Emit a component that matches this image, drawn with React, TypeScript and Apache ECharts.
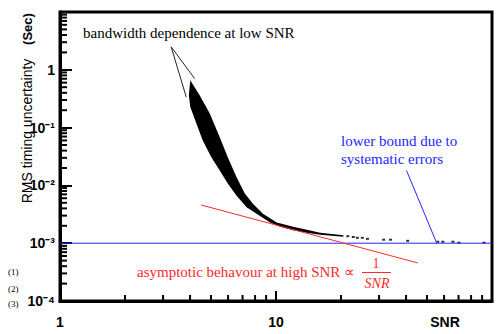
import React, { useEffect, useRef } from "react";
import * as echarts from "echarts";

// Band of simulated results (outline)
const snrUpper = [4.01, 4.43, 4.93, 5.49, 5.98, 6.57, 7.17, 7.82, 8.7, 10.08, 12.0, 13.9, 16.0, 20.5];
const rmsUpper = [0.659, 0.362, 0.177, 0.0684, 0.0308, 0.01384, 0.00722, 0.00483, 0.00324, 0.00229, 0.00193, 0.00171, 0.00152, 0.00137];
const snrLower = [20.5, 16.0, 13.9, 12.0, 10.44, 9.38, 8.13, 7.31, 6.57, 5.98, 5.49, 5.02, 4.58, 4.28, 4.01, 3.95];
const rmsLower = [0.00129, 0.0014, 0.00152, 0.00168, 0.00193, 0.00229, 0.00324, 0.00417, 0.00665, 0.01074, 0.0181, 0.0308, 0.06, 0.118, 0.227, 0.362];

// Isolated points of the high-SNR tail
const tailSnr = [21.5, 22.8, 23.8, 25.1, 26.5, 31.5, 33.9, 40.7, 56.1, 59.2, 65.9, 70.3, 91.8];
const tailRms = [0.00132, 0.00128, 0.00124, 0.00124, 0.00119, 0.00115, 0.00115, 0.0011, 0.00106, 0.00106, 0.00106, 0.00102, 0.00102];

// Asymptote ~ 1/SNR
const asymSnr = [4.5, 45.3];
const asymRms = [0.00458, 0.000456];

// Systematic lower bound
const boundSnr = [1, 100];
const boundRms = [0.001, 0.001];

// Annotation pointers
const ptrBlueSnr = [40.2, 55.5];
const ptrBlueRms = [0.0181, 0.001];
const ptrBlackSnr = [4.2, 3.27, 3.84];
const ptrBlackRms = [0.706, 2.5, 0.339];

// Tick labels
const yTickLabels = ["10\u207B\u2074", "10\u207B\u00B3", "10\u207B\u00B2", "10\u207B\u00B9", "1", ""];
const xTickLabels = ["1", "10", ""];

// Minor tick positions (2..9 in each decade)
const xMinorTicks = [2, 3, 4, 5, 6, 7, 8, 9, 20, 30, 40, 50, 60, 70, 80, 90];
const yMinorTicks = [
  0.0002, 0.0003, 0.0004, 0.0005, 0.0006, 0.0007, 0.0008, 0.0009,
  0.002, 0.003, 0.004, 0.005, 0.006, 0.007, 0.008, 0.009,
  0.02, 0.03, 0.04, 0.05, 0.06, 0.07, 0.08, 0.09,
  0.2, 0.3, 0.4, 0.5, 0.6, 0.7, 0.8, 0.9,
  2, 3, 4, 5, 6, 7, 8, 9,
];
const xMin = 1;
const xMax = 100;
const yMin = 0.0001;
const yMax = 10;

export default function App() {
  const ref = useRef<HTMLDivElement>(null);
  useEffect(() => {
    if (!ref.current) return;
    const chart = echarts.init(ref.current, undefined, { renderer: "svg" });

    const option: any = {
      animation: false,
      grid: { left: 60, right: 10, top: 12, bottom: 33, show: true, borderColor: "#000", borderWidth: 3 },
      xAxis: {
        type: "log",
        min: xMin,
        max: xMax,
        axisLine: { show: true, lineStyle: { color: "#000", width: 3 } },
        axisTick: { show: true, inside: true, length: 10, lineStyle: { color: "#000", width: 2 } },
        splitLine: { show: false },
        axisLabel: {
          margin: 14,
          color: "#000",
          fontWeight: "bold",
          fontSize: 14,
          formatter: (v: number) => xTickLabels[Math.round(Math.log10(v))] ?? "",
        },
      },
      yAxis: {
        type: "log",
        min: yMin,
        max: yMax,
        axisLine: { show: true, lineStyle: { color: "#000", width: 3 } },
        axisTick: { show: true, inside: true, length: 12, lineStyle: { color: "#000", width: 2 } },
        splitLine: { show: false },
        axisLabel: {
          margin: 5,
          color: "#000",
          fontWeight: "bold",
          fontSize: 14,
          formatter: (v: number) => yTickLabels[Math.round(Math.log10(v)) + 4] ?? "",
        },
      },
      series: [
        {
          type: "custom",
          data: [[snrUpper[0], rmsUpper[0]]],
          renderItem: (params: any, api: any) => {
            const pts = [
              ...snrUpper.map((s, i) => api.coord([s, rmsUpper[i]])),
              ...snrLower.map((s, i) => api.coord([s, rmsLower[i]])),
            ];
            const kids: any[] = [{ type: "polygon", shape: { points: pts }, style: { fill: "#000" } }];
            xMinorTicks.forEach((v) => {
              const p = api.coord([v, yMin]);
              kids.push({ type: "polygon", shape: { points: [[p[0] - 1, p[1]], [p[0] + 1, p[1]], [p[0] + 1, p[1] - 6], [p[0] - 1, p[1] - 6]] }, style: { fill: "#000" } });
            });
            yMinorTicks.forEach((v) => {
              const p = api.coord([xMin, v]);
              kids.push({ type: "polygon", shape: { points: [[p[0], p[1] - 1], [p[0] + 7, p[1] - 1], [p[0] + 7, p[1] + 1], [p[0], p[1] + 1]] }, style: { fill: "#000" } });
            });
            return { type: "group", children: kids };
          },
        },
        {
          type: "line",
          data: boundSnr.map((s, i) => [s, boundRms[i]]),
          showSymbol: false,
          lineStyle: { color: "#2626ff", width: 1 },
        },
        {
          type: "scatter",
          data: tailSnr.map((s, i) => [s, tailRms[i]]),
          symbol: "rect",
          symbolSize: [3, 2],
          itemStyle: { color: "#000" },
        },
        {
          type: "line",
          data: asymSnr.map((s, i) => [s, asymRms[i]]),
          showSymbol: false,
          lineStyle: { color: "#ff2a2a", width: 1 },
        },
        {
          type: "line",
          data: ptrBlueSnr.map((s, i) => [s, ptrBlueRms[i]]),
          showSymbol: false,
          lineStyle: { color: "#2626ff", width: 1 },
        },
        {
          type: "line",
          data: ptrBlackSnr.map((s, i) => [s, ptrBlackRms[i]]),
          showSymbol: false,
          lineStyle: { color: "#222", width: 1 },
        },
      ],
      graphic: [
        { type: "text", x: 27, y: 131, rotation: Math.PI / 2, style: { text: "RMS timing uncertainty", fontSize: 14, fill: "#000", textAlign: "center", textVerticalAlign: "middle" } },
        { type: "text", x: 27, y: 29, rotation: Math.PI / 2, style: { text: "(Sec)", fontWeight: "bold", fontSize: 13, fill: "#000", textAlign: "center", textVerticalAlign: "middle" } },
        { type: "text", x: 445, y: 322, style: { text: "SNR", fontWeight: "bold", fontSize: 14, fill: "#000", textAlign: "center", textVerticalAlign: "middle" } },
        { type: "text", x: 83, y: 33, style: { text: "bandwidth dependence at low SNR", fontFamily: "serif", fontSize: 15, fill: "#000", textVerticalAlign: "middle" } },
        { type: "text", x: 341, y: 141, style: { text: "lower bound due to", fontFamily: "serif", fontSize: 15, fill: "#2626ff", textVerticalAlign: "middle" } },
        { type: "text", x: 341, y: 159, style: { text: "systematic errors", fontFamily: "serif", fontSize: 15, fill: "#2626ff", textVerticalAlign: "middle" } },
        { type: "text", x: 137, y: 272, style: { text: "asymptotic behavour at high SNR \u221D", fontFamily: "serif", fontSize: 15, fill: "#ff2a2a", textVerticalAlign: "middle" } },
        { type: "text", x: 376, y: 263, style: { text: "1", fontFamily: "serif", fontSize: 14, fill: "#ff2a2a", textAlign: "center", textVerticalAlign: "middle" } },
        { type: "line", shape: { x1: 362, y1: 272.5, x2: 391, y2: 272.5 }, style: { stroke: "#ff2a2a", lineWidth: 1 } },
        { type: "text", x: 377, y: 283, style: { text: "SNR", fontFamily: "serif", fontStyle: "italic", fontSize: 14, fill: "#ff2a2a", textAlign: "center", textVerticalAlign: "middle" } },
        { type: "text", x: 8, y: 272, style: { text: "(1)", fontFamily: "serif", fontSize: 9, fill: "#000", textVerticalAlign: "middle" } },
        { type: "text", x: 8, y: 289, style: { text: "(2)", fontFamily: "serif", fontSize: 9, fill: "#000", textVerticalAlign: "middle" } },
        { type: "text", x: 8, y: 304, style: { text: "(3)", fontFamily: "serif", fontSize: 9, fill: "#000", textVerticalAlign: "middle" } },
      ],
    };
    chart.setOption(option);
    return () => chart.dispose();
  }, []);
  return <div ref={ref} style={{ width: 502, height: 334, position: "fixed", left: 0, top: 0, background: "#fff" }} />;
}
